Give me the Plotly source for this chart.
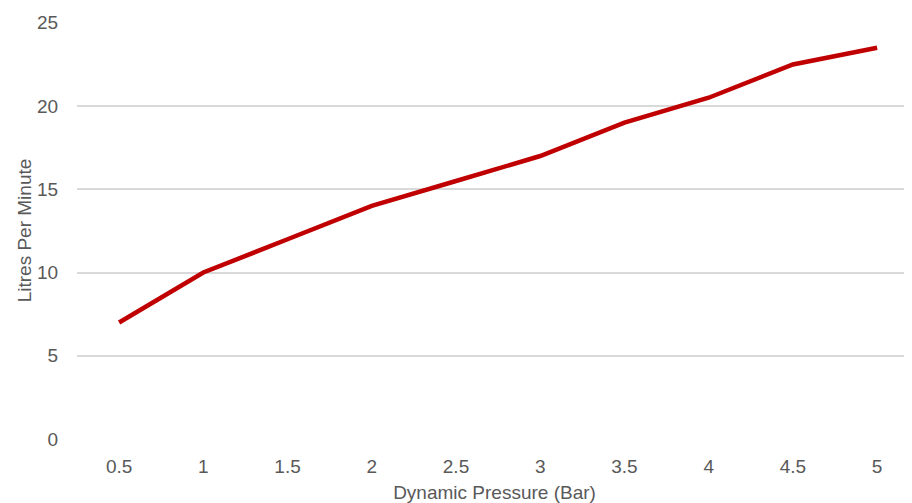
import plotly.graph_objects as go

pressure = ["0.5", "1", "1.5", "2", "2.5", "3", "3.5", "4", "4.5", "5"]
litres = [7, 10, 12, 14, 15.5, 17, 19, 20.5, 22.5, 23.5]

fig = go.Figure()
fig.add_trace(go.Scatter(
    x=pressure, y=litres, mode="lines",
    line=dict(color="#c00000", width=4.5),
    hoverinfo="skip",
))

font = dict(family="Liberation Sans, Arial, sans-serif", size=19, color="#595959")

fig.update_layout(
    width=904, height=495,
    margin=dict(l=69, r=0, t=14, b=64),
    paper_bgcolor="white", plot_bgcolor="white",
    showlegend=False,
    font=font,
    xaxis=dict(
        type="category",
        range=[-0.5, 9.414],
        showgrid=False, zeroline=False, showline=False,
        ticks="outside", ticklen=10, tickcolor="rgba(0,0,0,0)",
        tickfont=font, automargin=False,
        title=dict(text="Dynamic Pressure (Bar)", font=font, standoff=14),
    ),
    yaxis=dict(
        range=[0, 25.05],
        tickvals=[0, 5, 10, 15, 20, 25],
        showgrid=True, gridcolor="#d9d9d9", gridwidth=1.5,
        zeroline=False, showline=False,
        ticks="outside", ticklen=14, tickcolor="rgba(0,0,0,0)",
        tickfont=font, automargin=False,
        title=dict(text="Litres Per Minute", font=font, standoff=0),
    ),
)

fig.write_html("out.html")
